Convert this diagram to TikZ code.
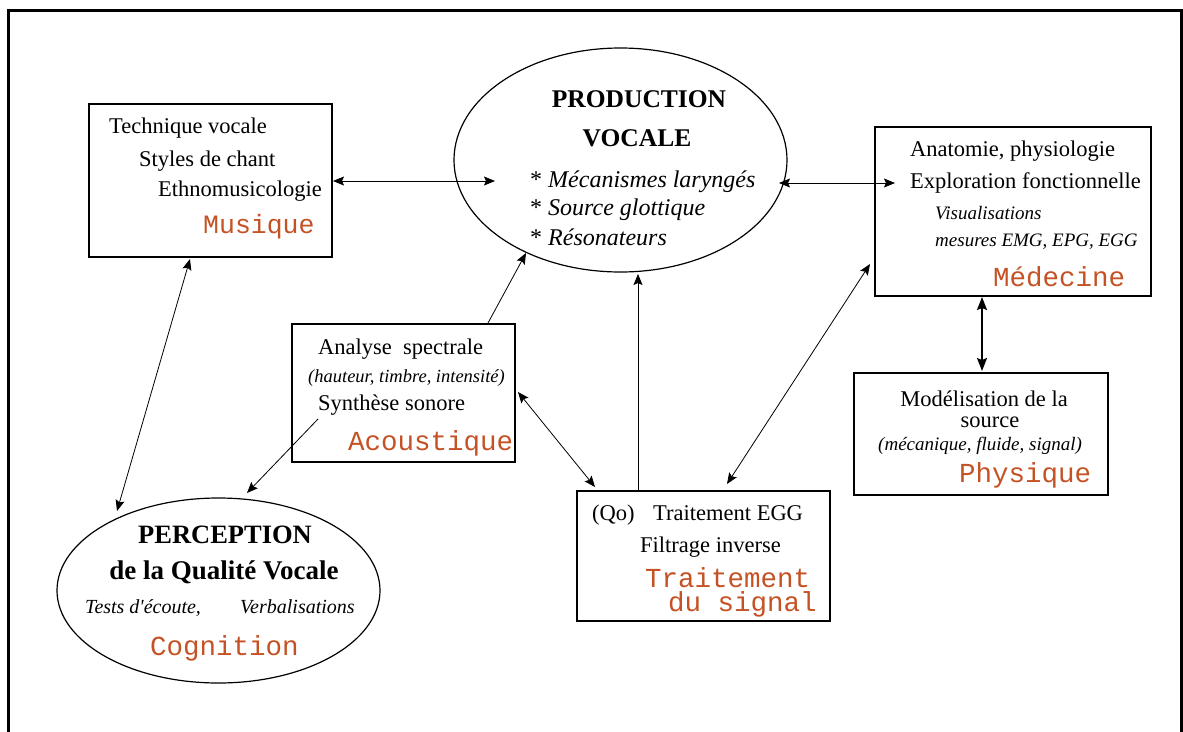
\documentclass[tikz,border=0pt]{standalone}
\usepackage{fontspec}
\setmainfont{Liberation Serif}
\setmonofont{Liberation Mono}
\usetikzlibrary{arrows.meta,shapes.geometric}
\definecolor{labc}{RGB}{196,82,36}
\tikzset{
  txt/.style={inner sep=0, font=\fontsize{22.5}{27}\selectfont},
  itxt/.style={inner sep=0, font=\itshape\fontsize{19}{23}\selectfont},
  btxt/.style={inner sep=0, font=\bfseries\fontsize{25.5}{30}\selectfont},
  lab/.style={inner sep=0, text=labc, font=\ttfamily\fontsize{27.5}{32}\selectfont},
  boxnode/.style={draw, line width=1.3pt, inner sep=0},
  ellnode/.style={draw, ellipse, line width=1.2pt, inner sep=0},
  link/.style={line width=0.8pt, {Stealth[length=11pt,width=9pt,inset=2pt]}-{Stealth[length=11pt,width=9pt,inset=2pt]}},
  onelink/.style={line width=0.8pt, -{Stealth[length=11pt,width=9pt,inset=2pt]}},
  thicklink/.style={line width=1.8pt, {Stealth[length=13pt,width=10pt,inset=2pt]}-{Stealth[length=13pt,width=10pt,inset=2pt]}},
}
\begin{document}
\begin{tikzpicture}[x=1pt,y=-1pt]
\useasboundingbox (0,0) rectangle (1183,731);
\draw[line width=2.5pt] (8.5,735) -- (8.5,10.5) -- (1181.5,10.5) -- (1181.5,735);

% Musique
\node[boxnode, minimum width=243pt, minimum height=153pt] (musbox) at (210.5,180.5) {};
\node[txt, anchor=base west] (mus1) at (109,133) {Technique vocale};
\node[txt, anchor=base west] (mus2) at (139,166) {Styles de chant};
\node[txt, anchor=base west] (mus3) at (158,196) {Ethnomusicologie};
\node[lab, anchor=base west, font=\ttfamily\fontsize{26.5}{32}\selectfont] (mus4) at (203,233) {Musique};

% Production
\node[ellnode, minimum width=333pt, minimum height=224pt] (prod) at (620.5,160) {};
\node[btxt, anchor=base] (prod1) at (639,107) {PRODUCTION};
\node[btxt, anchor=base] (prod2) at (637,146) {VOCALE};
\node[inner sep=0, anchor=base west, font=\fontsize{24}{28}\selectfont] (prod3) at (530,187) {* \textit{Mécanismes laryngés}};
\node[inner sep=0, anchor=base west, font=\fontsize{24}{28}\selectfont] (prod4) at (530,215) {* \textit{Source glottique}};
\node[inner sep=0, anchor=base west, font=\fontsize{24}{28}\selectfont] (prod5) at (530,245) {* \textit{Résonateurs}};

% Medecine
\node[boxnode, minimum width=276pt, minimum height=169pt] (medbox) at (1013,211.5) {};
\node[txt, anchor=base west] (med1) at (910,156) {Anatomie, physiologie};
\node[txt, anchor=base west] (med2) at (910,188) {Exploration fonctionnelle};
\node[itxt, anchor=base west] (med3) at (935,219) {Visualisations};
\node[itxt, anchor=base west] (med4) at (935,246) {mesures EMG, EPG, EGG};
\node[lab, anchor=base west] (med5) at (993,286) {Médecine};

% Acoustique
\node[boxnode, minimum width=223pt, minimum height=138pt] (acbox) at (403.5,393) {};
\node[txt, anchor=base west] (ac1) at (318,354) {Analyse\ \ spectrale};
\node[itxt, anchor=base west, font=\itshape\fontsize{18.5}{22}\selectfont] (ac2) at (308,382) {(hauteur, timbre, intensité)};
\node[txt, anchor=base west] (ac3) at (318,410) {Synthèse sonore};
\node[lab, anchor=base west] (ac4) at (348,450) {Acoustique};

% Physique
\node[boxnode, minimum width=254pt, minimum height=122pt] (phbox) at (981,434) {};
\node[txt, anchor=base] (ph1) at (984,406) {Modélisation de la};
\node[txt, anchor=base] (ph2) at (990,427) {source};
\node[itxt, anchor=base west] (ph3) at (878,450) {(mécanique, fluide, signal)};
\node[lab, anchor=base west] (ph4) at (959,482) {Physique};

% Perception
\node[ellnode, minimum width=323pt, minimum height=185pt] (per) at (218.5,590.5) {};
\node[btxt, anchor=base, font=\bfseries\fontsize{26.5}{31}\selectfont] (per1) at (225,543) {PERCEPTION};
\node[btxt, anchor=base, font=\bfseries\fontsize{27}{31}\selectfont] (per2) at (224,579) {de la Qualité Vocale};
\node[itxt, anchor=base west, font=\itshape\fontsize{20}{24}\selectfont] (per3) at (85,613) {Tests d\textquotesingle écoute,};
\node[itxt, anchor=base west, font=\itshape\fontsize{20}{24}\selectfont] (per4) at (240,613) {Verbalisations};
\node[lab, anchor=base west] (per5) at (150,655) {Cognition};

% Traitement du signal
\node[boxnode, minimum width=253pt, minimum height=130pt] (trbox) at (703.5,556) {};
\node[txt, anchor=base west] (tr1) at (592,520) {(Qo)};
\node[txt, anchor=base west] (tr2) at (653,520) {Traitement EGG};
\node[txt, anchor=base west] (tr3) at (640,552) {Filtrage inverse};
\node[lab, anchor=base west] (tr4) at (645,587) {Traitement};
\node[lab, anchor=base west] (tr5) at (668,611) {du signal};

% connector end points
\coordinate (mp1) at (333,181);
\coordinate (mp2) at (495,181);
\coordinate (pm1) at (779,183);
\coordinate (pm2) at (895,183);
\coordinate (mc1) at (190,259);
\coordinate (mc2) at (117,511);
\coordinate (ap1) at (488,323);
\coordinate (ap2) at (526,253);
\coordinate (ac1s) at (318,419);
\coordinate (ac2t) at (247,493);
\coordinate (at1) at (518,392);
\coordinate (at2) at (595,487);
\coordinate (tp1) at (638,490);
\coordinate (tp2) at (638,274);
\coordinate (tm1) at (727,484);
\coordinate (tm2) at (870,264);
\coordinate (mf1) at (982,297);
\coordinate (mf2) at (982,371);

\draw[link] (mp1) -- (mp2);
\draw[link] (pm1) -- (pm2);
\draw[link] (mc1) -- (mc2);
\draw[onelink] (ap1) -- (ap2);
\draw[onelink] (ac1s) -- (ac2t);
\draw[link] (at1) -- (at2);
\draw[onelink] (tp1) -- (tp2);
\draw[link] (tm1) -- (tm2);
\draw[thicklink] (mf1) -- (mf2);
\end{tikzpicture}
\end{document}
